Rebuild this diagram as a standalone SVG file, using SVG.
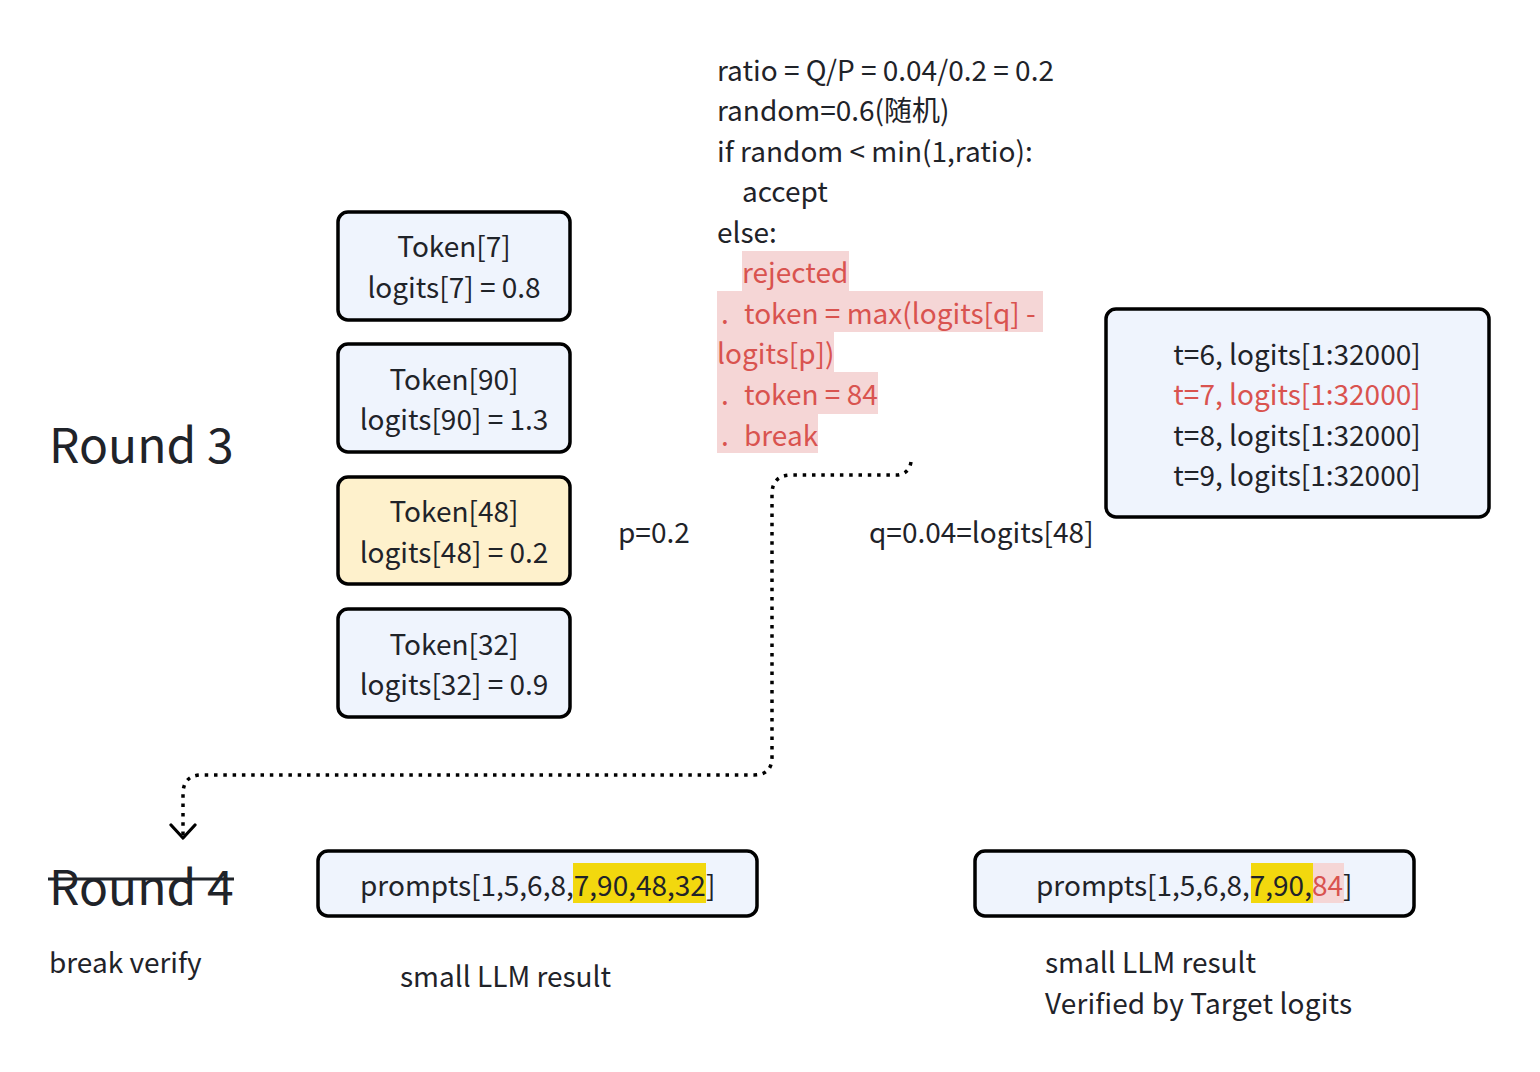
<svg xmlns="http://www.w3.org/2000/svg" width="1540" height="1072" viewBox="0 0 1540 1072">
<defs>
<style>
text{font-family:"Noto Sans CJK SC","Noto Sans",sans-serif;font-size:28px;fill:#1f2329;}
.c{text-anchor:middle;}
.red{fill:#d9534f;}
.box{fill:#eff4fd;stroke:#000;stroke-width:3.5;}
.ybox{fill:#fef1cc;stroke:#000;stroke-width:3.5;}
.pink{fill:#f5d6d6;}
.hl{fill:#f2d80e;}
.big{font-size:48px;}
.conn{fill:none;stroke:#000;stroke-width:3.5;stroke-dasharray:3.5 5.8;}
</style>
<marker id="arr" viewBox="0 0 30 30" refX="15" refY="15" markerWidth="30" markerHeight="30" markerUnits="userSpaceOnUse" orient="auto">
<path d="M2,3 L15,15 L2,27" fill="none" stroke="#000" stroke-width="3.2" stroke-linecap="round" stroke-linejoin="round"/>
</marker>
</defs>
<rect width="1540" height="1072" fill="#fff"/>

<g id="code">
<rect class="pink" x="742" y="251" width="107" height="41"/>
<rect class="pink" x="717" y="291" width="326" height="41"/>
<rect class="pink" x="717" y="331" width="117" height="42"/>
<rect class="pink" x="717" y="372" width="161" height="42"/>
<rect class="pink" x="717" y="413" width="101" height="40"/>
<text x="717" y="81">ratio = Q/P = 0.04/0.2 = 0.2</text>
<text x="717" y="121">random=0.6(随机)</text>
<text x="717" y="162">if random &lt; min(1,ratio):</text>
<text x="742" y="202">accept</text>
<text x="717" y="243">else:</text>
<text class="red" x="742" y="283">rejected</text>
<text class="red" x="721" y="324">.<tspan x="744">token = max(logits[q] -</tspan></text>
<text class="red" x="717" y="364">logits[p])</text>
<text class="red" x="721" y="405">.<tspan x="744">token = 84</tspan></text>
<text class="red" x="721" y="446">.<tspan x="744">break</tspan></text>
</g>

<g id="round3"><text class="big" x="49" y="463">Round 3</text></g>

<g id="tok7">
<rect class="box" x="338" y="212" width="232" height="108" rx="10"/>
<text class="c" x="454" y="257">Token[7]</text>
<text class="c" x="454" y="298">logits[7] = 0.8</text>
</g>
<g id="tok90">
<rect class="box" x="338" y="344" width="232" height="108" rx="10"/>
<text class="c" x="454" y="390">Token[90]</text>
<text class="c" x="454" y="430">logits[90] = 1.3</text>
</g>
<g id="tok48">
<rect class="ybox" x="338" y="477" width="232" height="107" rx="10"/>
<text class="c" x="454" y="522">Token[48]</text>
<text class="c" x="454" y="563">logits[48] = 0.2</text>
</g>
<g id="tok32">
<rect class="box" x="338" y="609" width="232" height="108" rx="10"/>
<text class="c" x="454" y="655">Token[32]</text>
<text class="c" x="454" y="695">logits[32] = 0.9</text>
</g>

<g id="plabel"><text x="618" y="543">p=0.2</text></g>
<g id="qlabel"><text x="869" y="543">q=0.04=logits[48]</text></g>

<g id="target">
<rect class="box" x="1106" y="309" width="383" height="208" rx="10"/>
<text class="c" x="1297" y="365">t=6, logits[1:32000]</text>
<text class="c red" x="1297" y="405">t=7, logits[1:32000]</text>
<text class="c" x="1297" y="446">t=8, logits[1:32000]</text>
<text class="c" x="1297" y="486">t=9, logits[1:32000]</text>
</g>

<g id="round4">
<text class="big" x="49" y="905">Round 4</text>
<line x1="48" y1="879" x2="234" y2="879" stroke="#1f2329" stroke-width="3"/>
</g>
<g id="breakverify"><text x="49" y="973">break verify</text></g>

<g id="prompts1">
<rect class="box" x="318" y="851" width="439" height="65" rx="10"/>
<rect class="hl" x="573" y="863" width="133" height="40"/>
<text x="360" y="896">prompts[1,5,6,8,<tspan>7,90,48,32</tspan>]</text>
</g>
<g id="label1"><text x="400" y="987">small LLM result</text></g>

<g id="prompts2">
<rect class="box" x="975" y="851" width="439" height="65" rx="10"/>
<rect class="hl" x="1251" y="863" width="62" height="40"/>
<rect class="pink" x="1313" y="863" width="31" height="40"/>
<text x="1036" y="896">prompts[1,5,6,8,7,90,<tspan class="red">84</tspan>]</text>
</g>
<g id="label2">
<text x="1045" y="973">small LLM result</text>
<text x="1045" y="1014" textLength="307">Verified by Target logits</text>
</g>

<g id="connectors">
<path class="conn" d="M911,462 Q909,474 897,475 L790,475 Q772,476 772,494 L772,757 Q772,775 754,775 L200,775 Q183,776 183,794 L183,838" marker-end="url(#arr)"/>
</g>
</svg>
